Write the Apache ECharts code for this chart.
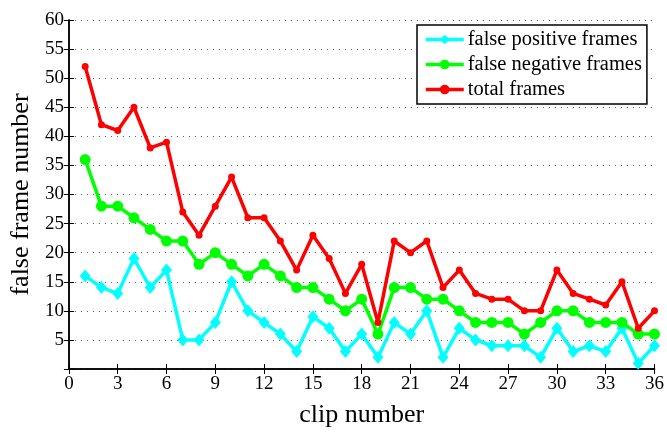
<!DOCTYPE html>
<html>
<head>
<meta charset="utf-8">
<script src="https://cdn.jsdelivr.net/npm/echarts@6/dist/echarts.min.js"></script>
<style>
  html, body { margin: 0; padding: 0; background: #fff; }
  #chart { width: 667px; height: 433px; }
</style>
</head>
<body>
<div id="chart"></div>
<script>
// Clip numbers 1..36
const clips = [1,2,3,4,5,6,7,8,9,10,11,12,13,14,15,16,17,18,19,20,21,22,23,24,25,26,27,28,29,30,31,32,33,34,35,36];
const falsePositive = [16,14,13,19,14,17,5,5,8,15,10,8,6,3,9,7,3,6,2,8,6,10,2,7,5,4,4,4,2,7,3,4,3,7,1,4];
const falseNegative = [36,28,28,26,24,22,22,18,20,18,16,18,16,14,14,12,10,12,6,14,14,12,12,10,8,8,8,6,8,10,10,8,8,8,6,6];
const totalFrames   = [52,42,41,45,38,39,27,23,28,33,26,26,22,17,23,19,13,18,8,22,20,22,14,17,13,12,12,10,10,17,13,12,11,15,7,10];
const xTicks = [0,3,6,9,12,15,18,21,24,27,30,33,36];
const yTicks = [0,5,10,15,20,25,30,35,40,45,50,55,60];

const pairs = ys => clips.map((c, i) => [c, ys[i]]);
const serif = '"Liberation Serif", "DejaVu Serif", serif';

const tickInside = { show: true, inside: true, length: 5, lineStyle: { color: '#000', width: 1 } };
const blackLine = { show: true, lineStyle: { color: '#000', width: 1.5 } };

const chart = echarts.init(document.getElementById('chart'), null, { renderer: 'canvas' });
chart.setOption({
  animation: false,
  backgroundColor: '#fff',
  grid: { left: 68, right: 12, top: 20, bottom: 58 },
  legend: {
    orient: 'vertical',
    left: 417, top: 25,
    padding: [4, 5, 4, 7],
    itemWidth: 38, itemHeight: 12, itemGap: 4,
    backgroundColor: '#fff',
    borderColor: '#000', borderWidth: 1.5, borderRadius: 0,
    lineStyle: { width: 3.5 },
    textStyle: { fontFamily: serif, fontSize: 20.5, color: '#000', padding: [0, 0, 0, -1] },
    data: ['false positive frames', 'false negative frames', 'total frames']
  },
  xAxis: [{
    type: 'value', min: xTicks[0], max: xTicks[xTicks.length - 1], interval: 3,
    name: 'clip number', nameLocation: 'middle', nameGap: 33,
    nameTextStyle: { fontFamily: serif, fontSize: 26, color: '#000' },
    axisLine: blackLine, axisTick: tickInside,
    axisLabel: { fontFamily: serif, fontSize: 19, color: '#000', margin: 6 },
    splitLine: { show: false }
  }, {
    type: 'value', position: 'top', min: xTicks[0], max: xTicks[xTicks.length - 1], interval: 3,
    axisLine: blackLine, axisTick: tickInside, axisLabel: { show: false }, splitLine: { show: false }
  }],
  yAxis: [{
    type: 'value', min: yTicks[0], max: yTicks[yTicks.length - 1], interval: 5,
    name: 'false frame number', nameLocation: 'middle', nameGap: 33,
    nameTextStyle: { fontFamily: serif, fontSize: 26, color: '#000' },
    axisLine: blackLine, axisTick: tickInside,
    axisLabel: { fontFamily: serif, fontSize: 19, color: '#000', margin: 5,
      formatter: v => (v === 0 ? '' : String(v)) },
    splitLine: { show: true, lineStyle: { color: '#555', width: 1, type: [1, 5] } }
  }, {
    type: 'value', position: 'right', min: yTicks[0], max: yTicks[yTicks.length - 1], interval: 5,
    axisLine: blackLine, axisTick: tickInside, axisLabel: { show: false }, splitLine: { show: false }
  }],
  series: [{
    name: 'false positive frames', type: 'line', data: pairs(falsePositive),
    symbol: 'diamond', symbolSize: [11, 13],
    lineStyle: { color: '#00ffff', width: 3.5 }, itemStyle: { color: '#00ffff' }, z: 3
  }, {
    name: 'false negative frames', type: 'line', data: pairs(falseNegative),
    symbol: 'circle', symbolSize: 11,
    lineStyle: { color: '#00ff00', width: 3.5 }, itemStyle: { color: '#00ff00' }, z: 4
  }, {
    name: 'total frames', type: 'line', data: pairs(totalFrames),
    symbol: 'circle', symbolSize: 7,
    lineStyle: { color: '#ff0000', width: 3.5 }, itemStyle: { color: '#ff0000' }, z: 5
  }]
});
</script>
</body>
</html>
